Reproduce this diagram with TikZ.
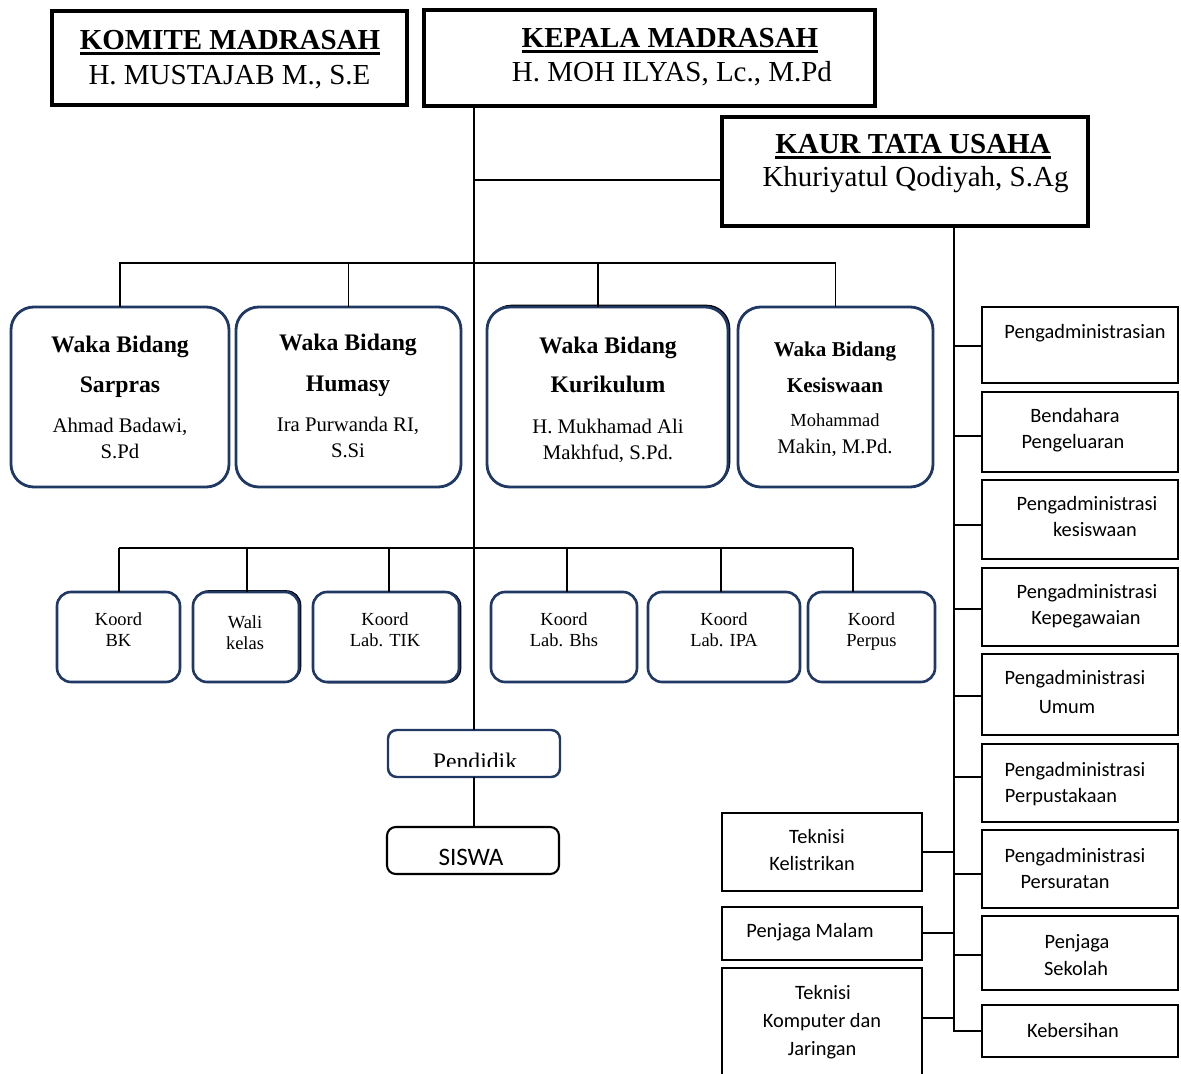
\documentclass[tikz,border=0pt]{standalone}
\usepackage{fontspec}
\setmainfont{Liberation Serif}
\newfontfamily\calib{Carlito}
\usetikzlibrary{fit}
\definecolor{navy}{RGB}{32,56,100}
\newcommand{\myul}[1]{\setbox0\hbox{#1}\rlap{\rule[-2.6pt]{\wd0}{1.2pt}}\box0}
\tikzset{
 every node/.style={inner sep=0pt, outer sep=0pt},
 topbox/.style={draw, line width=1.9pt, fill=white},
 wakabox/.style={draw=navy, line width=1.6pt, rounded corners=13pt, fill=white},
 koordbox/.style={draw=navy, line width=1.5pt, rounded corners=8pt, fill=white},
 shadowline/.style={line width=0.9pt, draw=black},
 pendbox/.style={draw=navy, line width=1.4pt, rounded corners=5pt, fill=white},
 siswabox/.style={draw, line width=1.2pt, rounded corners=5pt, fill=white},
 tubox/.style={draw, line width=1.3pt, fill=white},
 conn/.style={line width=1.1pt},
 txt/.style={anchor=base},
 title/.style={txt, font=\fontsize{16.5}{18}\selectfont\bfseries},
 tname/.style={txt, font=\fontsize{16.5}{18}\selectfont},
 wbold/.style={txt, font=\fontsize{13.5}{15}\selectfont\bfseries},
 wname/.style={txt, font=\fontsize{11.8}{14}\selectfont},
 ktxt/.style={txt, font=\fontsize{10.5}{12}\selectfont},
 ctxt/.style={txt, font=\calib\fontsize{11.6}{13}\selectfont},
}
\begin{document}
\begin{tikzpicture}[x=0.02cm, y=-0.02cm]
\useasboundingbox (0,0) rectangle (1181,1074);

% ---------- top boxes ----------
\node[topbox, fit={(52,11) (407,105)}] (komite) {};
\node[title] (komiteT) at (230,50) {\myul{KOMITE MADRASAH}};
\node[tname] (komiteN) at (229.5,85) {H. MUSTAJAB M., S.E};

\node[topbox, fit={(424,10) (875,106)}] (kepala) {};
\node[title] (kepalaT) at (670,48) {\myul{KEPALA MADRASAH}};
\node[tname] (kepalaN) at (672,82) {H. MOH ILYAS, Lc., M.Pd};

\node[topbox, fit={(722,117) (1088,226)}] (kaur) {};
\node[title] (kaurT) at (913,154) {\myul{KAUR TATA USAHA}};
\node[tname] (kaurN) at (915.5,187) {Khuriyatul Qodiyah, S.Ag};

% ---------- waka boxes ----------
\node[wakabox, fit={(11,307) (229,487)}] (sarpras) {};
\node[wbold] (sarT1) at (120,353) {Waka Bidang};
\node[wbold] (sarT2) at (120,393) {Sarpras};
\node[wname] (sarN1) at (120,433) {Ahmad Badawi,};
\node[wname] (sarN2) at (120,459) {S.Pd};

\node[wakabox, fit={(236,307) (461,487)}] (humasy) {};
\node[wbold] (humT1) at (348,351) {Waka Bidang};
\node[wbold] (humT2) at (348,392) {Humasy};
\node[wname] (humN1) at (348,432) {Ira Purwanda RI,};
\node[wname] (humN2) at (348,458) {S.Si};

\node[wakabox, shadowline, fit={(488.5,305.5) (729.5,485.5)}] (kurishadow) {};
\node[wakabox, fit={(487,307) (728,487)}] (kuri) {};
\node[wbold] (kurT1) at (608,354) {Waka Bidang};
\node[wbold] (kurT2) at (608,393) {Kurikulum};
\node[wname] (kurN1) at (608,434) {H. Mukhamad Ali};
\node[wname] (kurN2) at (608,460) {Makhfud, S.Pd.};

\node[wakabox, fit={(738,307) (933,487)}] (kesis) {};
\node[wbold, font=\fontsize{12}{14}\selectfont\bfseries] (kesT1) at (835,357) {Waka Bidang};
\node[wbold, font=\fontsize{12}{14}\selectfont\bfseries] (kesT2) at (835,393) {Kesiswaan};
\node[wname, font=\fontsize{10.5}{12}\selectfont] (kesN1) at (835,427) {Mohammad};
\node[wname] (kesN2) at (835,454) {Makin, M.Pd.};

% ---------- koord boxes ----------
\node[koordbox, fit={(57,592) (180,682)}] (bk) {};
\node[ktxt] (bkT1) at (118.5,626) {Koord};
\node[ktxt] (bkT2) at (118.5,647) {BK};

\node[koordbox, shadowline, fit={(194.5,591) (300.5,681)}] (walishadow) {};
\node[koordbox, fit={(193,592) (299,682)}] (wali) {};
\node[ktxt] (waliT1) at (245,629) {Wali};
\node[ktxt] (waliT2) at (245,650) {kelas};

\node[koordbox, shadowline, fit={(314.5,592) (460.5,682.5)}] (tikshadow) {};
\node[koordbox, fit={(313,592) (459,682)}] (tik) {};
\node[ktxt] (tikT1) at (385,626) {Koord};
\node[ktxt] (tikT2) at (385,647) {Lab. TIK};

\node[koordbox, fit={(491,592) (637,682)}] (bhs) {};
\node[ktxt] (bhsT1) at (564,626) {Koord};
\node[ktxt] (bhsT2) at (564,647) {Lab. Bhs};

\node[koordbox, fit={(648,592) (800,682)}] (ipa) {};
\node[ktxt] (ipaT1) at (724,626) {Koord};
\node[ktxt] (ipaT2) at (724,647) {Lab. IPA};

\node[koordbox, fit={(808,592) (935,682)}] (perpus) {};
\node[ktxt] (perT1) at (871.5,626) {Koord};
\node[ktxt] (perT2) at (871.5,647) {Perpus};

% ---------- pendidik / siswa ----------
\node[pendbox, fit={(388,730) (560,777)}] (pendidik) {};
\begin{scope}
\clip (388,730) rectangle (560,766);
\node[txt, font=\fontsize{13.5}{15}\selectfont] (pendT) at (475,769) {Pendidik};
\end{scope}
\node[siswabox, fit={(387,827) (559,874)}] (siswa) {};
\node[txt, font=\calib\fontsize{14.3}{16}\selectfont] (siswaT) at (471,865) {SISWA};

% ---------- tata usaha column ----------
\node[tubox, fit={(982,307) (1178,383)}] (pa) {};
\node[ctxt] (paT) at (1085,339) {Pengadministrasian};

\node[tubox, fit={(982,392) (1178,472)}] (bend) {};
\node[ctxt] (bendT1) at (1075,423) {Bendahara};
\node[ctxt] (bendT2) at (1073,449) {Pengeluaran};

\node[tubox, fit={(982,480) (1178,559)}] (pks) {};
\node[ctxt] (pksT1) at (1087,511) {Pengadministrasi};
\node[ctxt] (pksT2) at (1095,537) {kesiswaan};

\node[tubox, fit={(982,568) (1178,646)}] (pkp) {};
\node[ctxt] (pkpT1) at (1087,599) {Pengadministrasi};
\node[ctxt] (pkpT2) at (1086,625) {Kepegawaian};

\node[tubox, fit={(982,654) (1178,735)}] (pum) {};
\node[ctxt] (pumT1) at (1075,684) {Pengadministrasi};
\node[ctxt] (pumT2) at (1067,713) {Umum};

\node[tubox, fit={(982,744) (1178,822)}] (ppu) {};
\node[ctxt] (ppuT1) at (1075,776) {Pengadministrasi};
\node[ctxt] (ppuT2) at (1061,802) {Perpustakaan};

\node[tubox, fit={(982,830) (1178,908)}] (pps) {};
\node[ctxt] (ppsT1) at (1075,862) {Pengadministrasi};
\node[ctxt] (ppsT2) at (1065,888) {Persuratan};

\node[tubox, fit={(982,916) (1178,990)}] (pjs) {};
\node[ctxt] (pjsT1) at (1077,948) {Penjaga};
\node[ctxt] (pjsT2) at (1076,975) {Sekolah};

\node[tubox, fit={(982,1005) (1178,1057)}] (keb) {};
\node[ctxt] (kebT) at (1073,1037) {Kebersihan};

\node[tubox, fit={(722,813) (922,891)}] (tk) {};
\node[ctxt] (tkT1) at (817,843) {Teknisi};
\node[ctxt] (tkT2) at (812,870) {Kelistrikan};

\node[tubox, fit={(722,907) (922,960)}] (pm) {};
\node[ctxt] (pmT) at (810,937) {Penjaga Malam};

\node[tubox, fit={(722,968) (922,1095)}] (tkj) {};
\node[ctxt] (tkjT1) at (823,999) {Teknisi};
\node[ctxt] (tkjT2) at (822,1027) {Komputer dan};
\node[ctxt] (tkjT3) at (822,1055) {Jaringan};

% ---------- connectors ----------
\draw[conn] (kepala.south -| pendidik.north) -- (pendidik.north);
\coordinate (jk) at (474,180);
\draw[conn] (jk) -- (jk -| kaur.west);
\draw[conn] (pendidik.south) -- (pendidik.south |- siswa.north);

\coordinate (wb) at (474,263);
\draw[conn] (sarpras.north) |- (wb) -| (kesis.north);
\draw[conn] (humasy.north) -- (humasy.north |- wb);
\coordinate (kd) at (598,263);
\draw[conn] (kd) -- (kd |- kuri.north);

\coordinate (kb1) at (119,548);
\coordinate (kb2) at (247,548);
\coordinate (kb3) at (389,548);
\coordinate (kb4) at (567,548);
\coordinate (kb5) at (721,548);
\coordinate (kb6) at (853,548);
\draw[conn] (kb1) -- (kb6);
\draw[conn] (kb1) -- (kb1 |- bk.north);
\draw[conn] (kb2) -- (kb2 |- wali.north);
\draw[conn] (kb3) -- (kb3 |- tik.north);
\draw[conn] (kb4) -- (kb4 |- bhs.north);
\draw[conn] (kb5) -- (kb5 |- ipa.north);
\draw[conn] (kb6) -- (kb6 |- perpus.north);

\coordinate (kv) at (954,226);
\draw[conn] (kv) |- (keb.west);
\coordinate (r1) at (954,346);
\coordinate (r2) at (954,436);
\coordinate (r3) at (954,525);
\coordinate (r4) at (954,609);
\coordinate (r5) at (954,696);
\coordinate (r6) at (954,777);
\coordinate (r7) at (954,874);
\coordinate (r8) at (954,955);
\draw[conn] (r1) -- (r1 -| pa.west);
\draw[conn] (r2) -- (r2 -| bend.west);
\draw[conn] (r3) -- (r3 -| pks.west);
\draw[conn] (r4) -- (r4 -| pkp.west);
\draw[conn] (r5) -- (r5 -| pum.west);
\draw[conn] (r6) -- (r6 -| ppu.west);
\draw[conn] (r7) -- (r7 -| pps.west);
\draw[conn] (r8) -- (r8 -| pjs.west);
\coordinate (l1) at (954,852);
\coordinate (l2) at (954,933);
\coordinate (l3) at (954,1018);
\draw[conn] (l1) -- (l1 -| tk.east);
\draw[conn] (l2) -- (l2 -| pm.east);
\draw[conn] (l3) -- (l3 -| tkj.east);
\end{tikzpicture}
\end{document}
